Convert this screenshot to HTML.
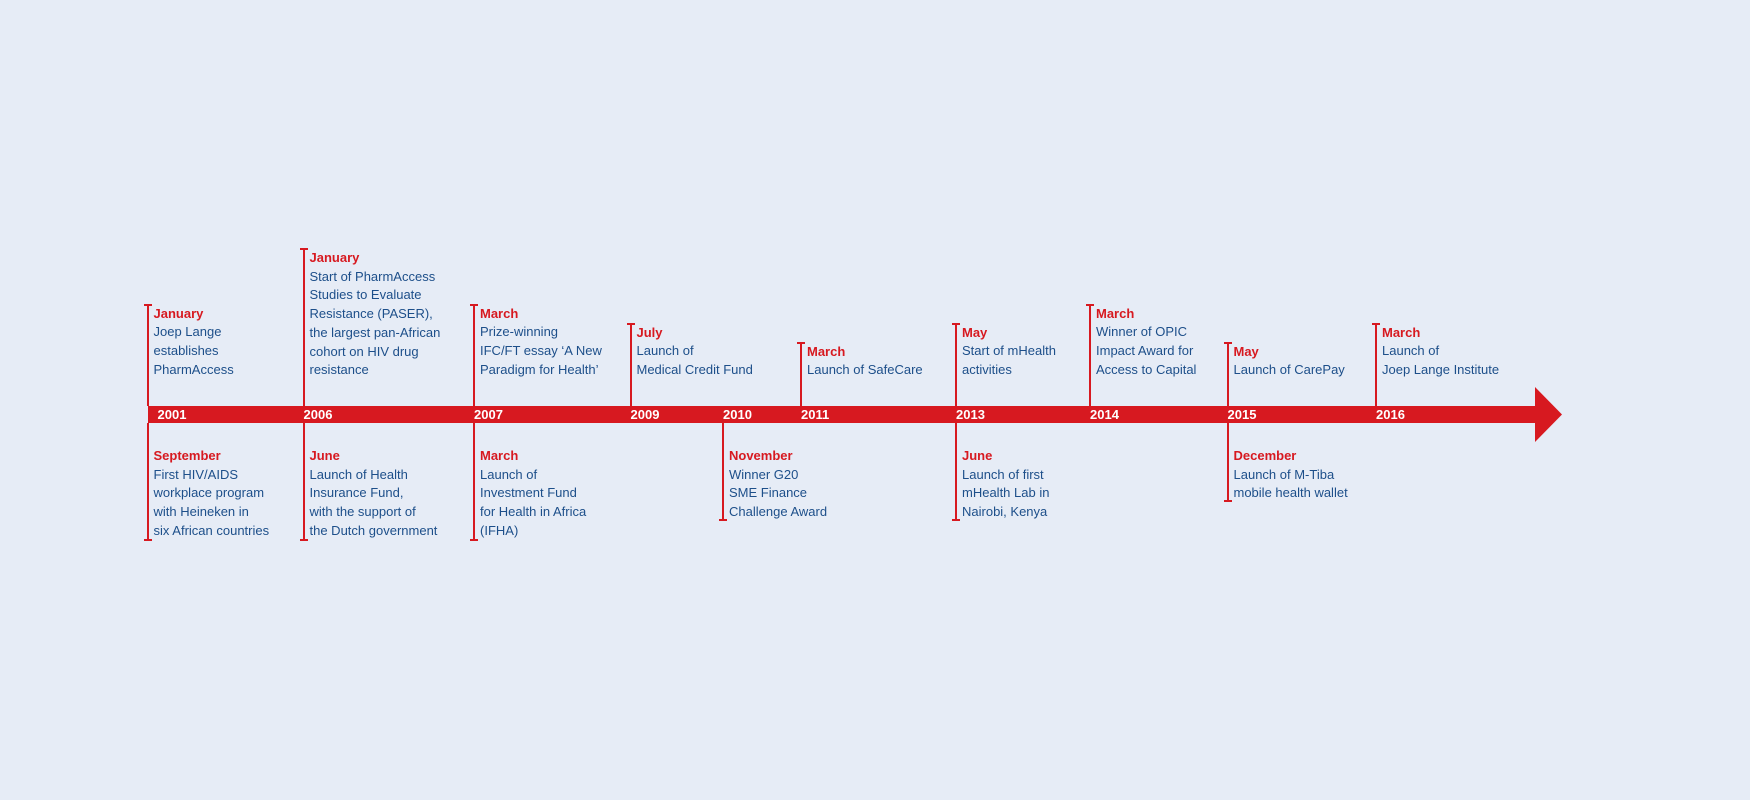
<!DOCTYPE html>
<html><head><meta charset="utf-8">
<style>
body{margin:0;width:1750px;height:800px;background:#e6ecf6;overflow:hidden;font-family:"Liberation Sans",sans-serif;}
#c{position:relative;width:1750px;height:800px;}
.lbl{position:absolute;font-size:13px;line-height:18.7px;color:#1d4f8a;white-space:nowrap;}
.lbl b{color:#d71920;}
.tick{position:absolute;width:2px;background:#d71920;}
.cap{position:absolute;width:8px;height:2px;background:#d71920;}
.yr{position:absolute;top:407px;font-size:13px;font-weight:bold;color:#fff;line-height:16px;}
</style></head><body>
<div id="c">
<svg width="1750" height="800" style="position:absolute;left:0;top:0">
<rect x="148" y="406" width="1390" height="17" fill="#d71920"/>
<polygon points="1535,387 1562,414.5 1535,442" fill="#d71920"/>
</svg>
</div>
<script>
const years=["2001","2006","2007","2009","2010","2011","2013","2014","2015","2016"];
const yearX=[147.5,303.5,474,630.5,723,801,956,1090,1227.5,1376];
const topEvents=[
["2001","January",["Joep Lange","establishes","PharmAccess"],303.5],
["2006","January",["Start of PharmAccess","Studies to Evaluate","Resistance (PASER),","the largest pan-African","cohort on HIV drug","resistance"],248],
["2007","March",["Prize-winning","IFC/FT essay ‘A New","Paradigm for Health’"],303.5],
["2009","July",["Launch of","Medical Credit Fund"],322.5],
["2011","March",["Launch of SafeCare"],341.5],
["2013","May",["Start of mHealth","activities"],322.5],
["2014","March",["Winner of OPIC","Impact Award for","Access to Capital"],303.5],
["2015","May",["Launch of CarePay"],341.5],
["2016","March",["Launch of","Joep Lange Institute"],322.5]];
const bottomEvents=[
["2001","September",["First HIV/AIDS","workplace program","with Heineken in","six African countries"],541],
["2006","June",["Launch of Health","Insurance Fund,","with the support of","the Dutch government"],541],
["2007","March",["Launch of","Investment Fund","for Health in Africa","(IFHA)"],541],
["2010","November",["Winner G20","SME Finance","Challenge Award"],521],
["2013","June",["Launch of first","mHealth Lab in","Nairobi, Kenya"],521],
["2015","December",["Launch of M-Tiba","mobile health wallet"],502]];
const c=document.getElementById('c');
function xOf(y){return yearX[years.indexOf(y)];}
function mk(cls,css){const d=document.createElement('div');d.className=cls;Object.assign(d.style,css);c.appendChild(d);return d;}
years.forEach((y,i)=>{
 const d=mk('yr',{left:(xOf(y)+(i===0?10:0))+'px'});
 
 
 d.textContent=y;
});
topEvents.forEach(e=>{
 const x=xOf(e[0]),t=e[3];
 const tk=mk('tick',{left:(x-1)+'px',top:t+'px',height:(406-t)+'px'});
 
 
 const cp=mk('cap',{left:(x-4)+'px',top:t+'px'});
 
 
 const l=mk('lbl',{left:(x+6)+'px',top:(t+1)+'px'});
 
 
 l.innerHTML='<b>'+e[1]+'</b><br>'+e[2].join('<br>');
});
bottomEvents.forEach(e=>{
 const x=xOf(e[0]),b=e[3];
 const tk=mk('tick',{left:(x-1)+'px',top:'423px',height:(b-423)+'px'});
 
 
 const cp=mk('cap',{left:(x-4)+'px',top:(b-2)+'px'});
 
 
 const l=mk('lbl',{left:(x+6)+'px',top:'447px'});
 
 
 l.innerHTML='<b>'+e[1]+'</b><br>'+e[2].join('<br>');
});
</script>
</body></html>
